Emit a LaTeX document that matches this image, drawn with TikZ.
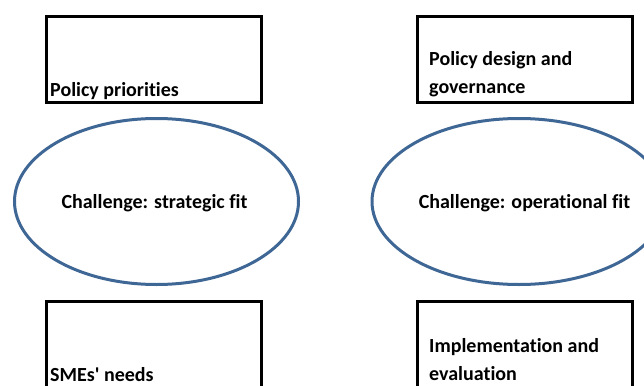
\documentclass[tikz,border=0pt]{standalone}
\usepackage{fontspec}
\setmainfont{Carlito}[Ligatures={NoCommon}]
\usetikzlibrary{shapes.geometric}
\definecolor{ovalblue}{HTML}{3F6795}
\begin{document}
\begin{tikzpicture}[x=1pt,y=-1pt,
  box/.style={draw=black, line width=3pt, minimum width=215pt, minimum height=86pt, inner sep=0pt},
  oval/.style={draw=ovalblue, line width=3pt, ellipse, minimum height=166pt, inner sep=0pt},
  otext/.style={font=\bfseries\fontsize{20}{24}\selectfont, inner sep=0pt},
  lbl/.style={font=\bfseries\fontsize{20}{27}\selectfont, anchor=base west, inner sep=0pt, align=left}]
\useasboundingbox (0,0) rectangle (644,385);
\clip (0,0) rectangle (644,385);
\node[box] (b1) at (154,59.5) {};
\node[box] (b2) at (524.5,59.5) {};
\node[box] (b3) at (154,344.5) {};
\node[box] (b4) at (524.5,344.5) {};
\node[oval, minimum width=284pt] (e1) at (156.5,201.5) {};
\node[oval, minimum width=294pt] (e2) at (519,201.5) {};
\node[otext] (e1t) at (154.5,203.5) {Challenge: strategic fit};
\node[otext] (e2t) at (524.5,203.5) {Challenge: operational fit};
\node[lbl] (t1) at (50,96) {Policy priorities};
\node[lbl] (t2) at (429,66) {Policy design and};
\node[lbl] (t2b) at (429,93) {governance};
\node[lbl] (t3) at (50,381) {SMEs\textquotesingle\ needs};
\node[lbl] (t4) at (429,352) {Implementation and};
\node[lbl] (t4b) at (429,380) {evaluation};
\end{tikzpicture}
\end{document}
